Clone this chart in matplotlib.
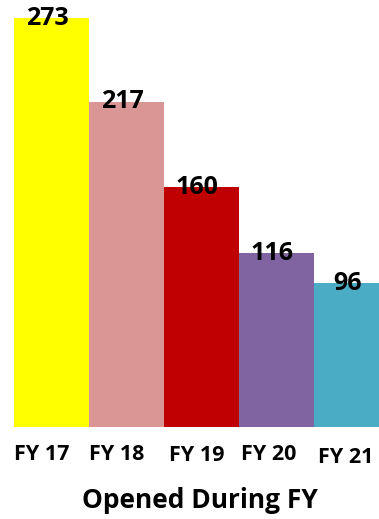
import matplotlib
matplotlib.use("Agg")
import matplotlib.pyplot as plt
from matplotlib.transforms import ScaledTranslation, blended_transform_factory

# data
years = ["FY 17", "FY 18", "FY 19", "FY 20", "FY 21"]
opened = [273, 217, 160, 116, 96]
colors = ["#FFFF00", "#D99694", "#C00000", "#8064A2", "#4BACC6"]

plt.rcParams['font.family'] = ['Open Sans', 'DejaVu Sans']

fig = plt.figure(figsize=(3.79, 5.19), dpi=100)
ax = fig.add_axes([0, 92 / 519, 1, 427 / 519])

x = list(range(len(years)))
bars = ax.bar(x, opened, width=1.0, color=colors, edgecolor='none')

# value labels sit on the bar tops, a little left of centre
for xi, v in zip(x, opened):
    ax.annotate(str(v), (xi, v), xytext=(-3, 0), textcoords='offset points',
                ha='center', va='center', fontsize=18, fontweight='bold')

ax.set_xlim(-0.5 - 14 / 75, -0.5 + 365 / 75)
ax.set_ylim(0, 427 / 1.498)
ax.axis('off')

# category labels under the bars, slightly staggered like the original
trans = blended_transform_factory(ax.transData, ax.transAxes)
nudges = [(-10, 0), (-10, 0), (-5, -1), (-8, 0), (-6, -3)]
for xi, lab, (dx, dy) in zip(x, years, nudges):
    t = trans + ScaledTranslation(dx / 100, dy / 100, fig.dpi_scale_trans)
    ax.text(xi, -17 / 427, lab, transform=t, ha='center', va='top',
            fontsize=15.5, fontweight='bold')

fig.text(0.528, 5 / 519, "Opened During FY", ha='center', va='bottom',
         fontsize=19, fontweight='bold')

fig.savefig("out.png", dpi=100)
